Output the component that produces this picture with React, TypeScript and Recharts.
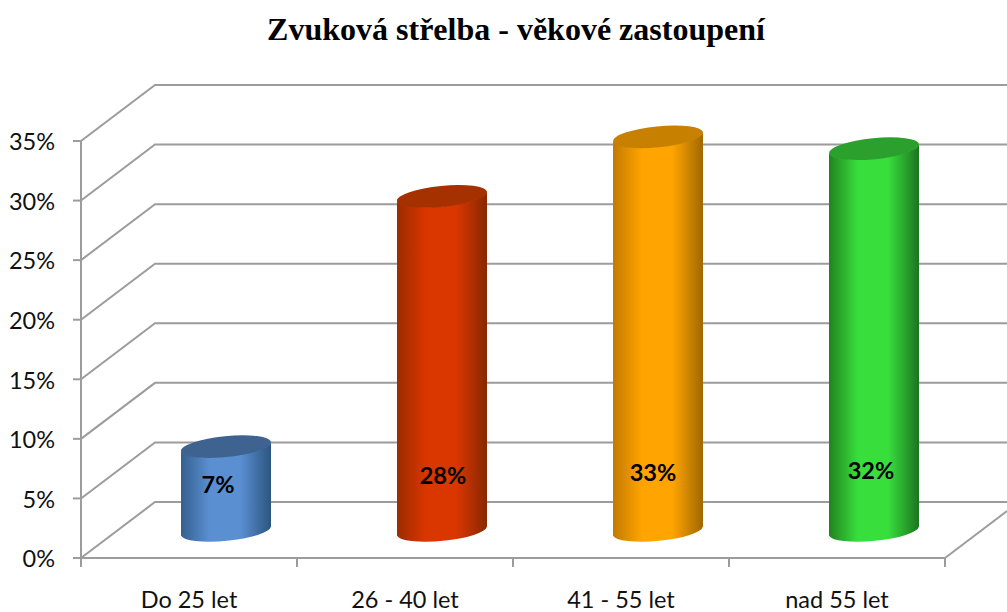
import { Bar, BarChart, CartesianGrid, LabelList, XAxis, YAxis } from "recharts"

const categories = ["Do 25 let", "26 - 40 let", "41 - 55 let", "nad 55 let"]
const shares = [7, 28, 33, 32]
const yTicks = [0, 5, 10, 15, 20, 25, 30, 35]

// edge, middle, far edge, lid
const blues = ["#35608f", "#5a8fd2", "#2c5580", "#3f6390"]
const reds = ["#9c2c00", "#d93600", "#872800", "#a53000"]
const oranges = ["#c27a00", "#ffa400", "#a06800", "#c88000"]
const greens = ["#208420", "#38de3c", "#1c7420", "#2ba02c"]
const palette = [blues, reds, oranges, greens]

const rows = categories.map((name, i) => ({ name, share: shares[i] }))

const GRID = "#9c9c9c"
const DEPTH_X = 74
const DEPTH_Y = 56
const PAGE_W = 1007
const PLOT_BOTTOM = 558
const HALF_BAND = 108
const TICK_LEN = 9

// hand placed in the original, so nudged per bar from the cylinder centre
const labelDx = [-8, 1, -5, -3]
const labelY = [484, 475, 472, 470]

function grid3d(props: any) {
  const y = props.y1
  const isFloor = Math.abs(y - PLOT_BOTTOM) < 1
  return (
    <g key={props.key ?? y}>
      <path
        d={`M${props.x1} ${y}L${props.x1 + DEPTH_X} ${y - DEPTH_Y}L${PAGE_W} ${y - DEPTH_Y}`}
        fill="none"
        stroke={GRID}
        strokeWidth={2}
      />
      {isFloor && (
        <path d={`M${props.x2} ${y}L${PAGE_W} ${y - 47}`} fill="none" stroke={GRID} strokeWidth={2} />
      )}
    </g>
  )
}

// the ticks sit between the categories, not under them
function CategoryTick(props: any) {
  const { x, index, payload } = props
  const last = index === categories.length - 1
  return (
    <g>
      <line x1={x - HALF_BAND} x2={x - HALF_BAND} y1={PLOT_BOTTOM} y2={PLOT_BOTTOM + TICK_LEN} stroke={GRID} strokeWidth={2} />
      {last && (
        <line x1={x + HALF_BAND} x2={x + HALF_BAND} y1={PLOT_BOTTOM} y2={PLOT_BOTTOM + TICK_LEN} stroke={GRID} strokeWidth={2} />
      )}
      <text x={x} y={608} textAnchor="middle" fontFamily="Lato" fontSize={23.5} fill="#111">
        {payload.value}
      </text>
    </g>
  )
}

function Cylinder(props: any) {
  const { x, y, width, height, index } = props
  const shiftX = DEPTH_X / 2
  const shiftY = DEPTH_Y / 2
  const left = x + shiftX
  const right = left + width
  const top = y - shiftY
  const bottom = y + height - shiftY + 1
  const tilt = 4.5
  const rx = 45.3
  const ry = 10.5
  const arc = (sweep: number, tx: number, ty: number) => `A${rx} ${ry} -5.7 0 ${sweep} ${tx} ${ty}`
  return (
    <g>
      <path
        d={`M${left} ${top + tilt}L${left} ${bottom + tilt}${arc(0, right, bottom - tilt)}L${right} ${top - tilt}${arc(1, left, top + tilt)}Z`}
        fill={`url(#cyl${index})`}
      />
      <ellipse
        cx={left + width / 2}
        cy={top}
        rx={rx}
        ry={ry}
        transform={`rotate(-5.7 ${left + width / 2} ${top})`}
        fill={palette[index][3]}
      />
    </g>
  )
}

function ShareLabel(props: any) {
  const { x, width, index, value } = props
  return (
    <text
      x={x + width / 2 + DEPTH_X / 2 + labelDx[index]}
      y={labelY[index]}
      textAnchor="middle"
      dominantBaseline="central"
      fontFamily="Lato"
      fontWeight={700}
      fontSize={23.5}
      fill="#000"
    >
      {value}%
    </text>
  )
}

export default function App() {
  return (
    <div style={{ position: "absolute", left: 0, top: 0, width: 1007, height: 612, background: "#fff" }}>
      <BarChart
        width={1007}
        height={612}
        data={rows}
        margin={{ top: 141, right: 62, bottom: 0, left: 0 }}
        barSize={90}
      >
        <defs>
          {palette.map((c, i) => (
            <linearGradient id={`cyl${i}`} key={i} x1="0" x2="1" y1="0" y2="0">
              <stop offset="0%" stopColor={c[0]} />
              <stop offset="32%" stopColor={c[1]} />
              <stop offset="66%" stopColor={c[1]} />
              <stop offset="100%" stopColor={c[2]} />
            </linearGradient>
          ))}
        </defs>
        <text
          x={516}
          y={40}
          textAnchor="middle"
          fontFamily="Liberation Serif"
          fontWeight={700}
          fontSize={32}
          fill="#000"
        >
          Zvuková střelba - věkové zastoupení
        </text>
        <CartesianGrid vertical={false} horizontal={grid3d} />
        <XAxis
          dataKey="name"
          height={54}
          interval={0}
          tickLine={false}
          axisLine={{ stroke: GRID, strokeWidth: 2 }}
          tick={<CategoryTick />}
        />
        <YAxis
          width={81}
          domain={[0, 35]}
          ticks={yTicks}
          tickFormatter={(v: number) => `${v}%`}
          tickSize={8}
          tickMargin={18}
          axisLine={{ stroke: GRID, strokeWidth: 2 }}
          tickLine={{ stroke: GRID, strokeWidth: 2 }}
          tick={{ fontFamily: "Lato", fontSize: 23.5, fill: "#111", dy: 1 }}
        />
        <Bar dataKey="share" isAnimationActive={false} shape={<Cylinder />}>
          <LabelList dataKey="share" content={<ShareLabel />} />
        </Bar>
      </BarChart>
    </div>
  )
}
